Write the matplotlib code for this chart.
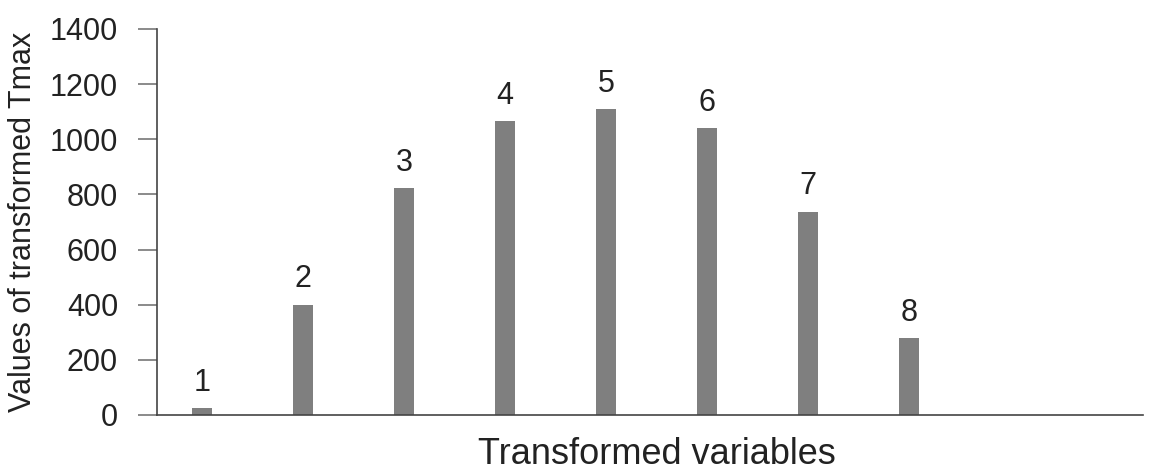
import numpy as np
import matplotlib.pyplot as plt

# Bar data
variables = [1, 2, 3, 4, 5, 6, 7, 8]
tmax_values = [25, 400, 822, 1066, 1110, 1040, 737, 279]
bar_labels = ["1", "2", "3", "4", "5", "6", "7", "8"]
y_ticks = [0, 200, 400, 600, 800, 1000, 1200, 1400]

plt.rcParams['font.family'] = ['Liberation Sans', 'DejaVu Sans']

fig = plt.figure(figsize=(11.63, 4.74), dpi=100)
ax = fig.add_axes([0.135, 0.1245, 0.848, 0.8145])

ax.bar(variables, tmax_values, width=0.19, color='#7f7f7f')

# Numbers above each bar
for x, v, lab in zip(variables, tmax_values, bar_labels):
    ax.annotate(lab, (x, v), xytext=(0, 12.5), textcoords='offset points',
                ha='center', va='baseline', fontsize=22, color='#222222')

ax.set_xlim(0.555, 10.32)
ax.set_ylim(0, 1400)
ax.set_yticks(y_ticks)
ax.set_xticks([])

for side in ['top', 'right']:
    ax.spines[side].set_visible(False)
for side in ['left', 'bottom']:
    ax.spines[side].set_color('#444444')
    ax.spines[side].set_linewidth(1.2)

ax.tick_params(axis='y', length=14, width=1.2, color='#777777',
               labelsize=22, labelcolor='#222222', pad=14)

ax.set_ylabel('Values of transformed Tmax', fontsize=22, color='#222222')
ax.yaxis.set_label_coords(-0.121, 0.5)
ax.set_xlabel('Transformed variables', fontsize=26, color='#222222')
ax.xaxis.set_label_coords(0.507, -0.058)

fig.savefig('out.png', dpi=100)
